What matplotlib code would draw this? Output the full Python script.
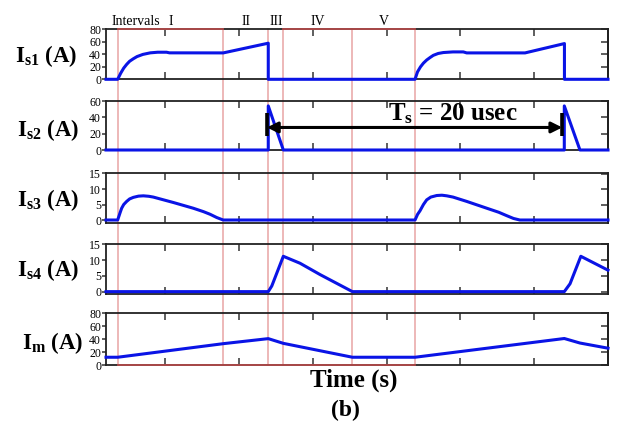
import matplotlib
matplotlib.use("Agg")
import matplotlib.pyplot as plt
from matplotlib.lines import Line2D
from matplotlib.transforms import blended_transform_factory

plt.rcParams['font.family'] = ['Liberation Serif', 'DejaVu Serif']
plt.rcParams['mathtext.fontset'] = 'custom'
plt.rcParams['mathtext.rm'] = 'Liberation Serif'
plt.rcParams['mathtext.bf'] = 'Liberation Serif:bold'
plt.rcParams['mathtext.it'] = 'Liberation Serif:italic'

# ---- waveforms (time in microseconds, currents in A) ----
t_is1 = [1.00, 1.79, 2.00, 2.20, 2.40, 2.60, 2.85, 3.10, 3.50, 4.00, 4.50, 5.10,
         5.30, 8.94, 11.99, 11.99,
         21.93, 22.10, 22.30, 22.50, 22.72, 22.95, 23.17, 23.50, 23.85, 24.50,
         25.20, 25.43, 29.38, 32.05, 32.05, 35.00]
i_s1 = [0, 0, 10, 18, 24, 29, 33, 36.5, 40, 42.5, 43.5, 43.5,
        42.5, 42.4, 58, 0,
        0, 12, 20, 26, 31, 35, 38.5, 41.5, 43, 44,
        44, 42.4, 42.4, 57.4, 0, 0]

t_is2 = [1.00, 11.99, 11.99, 13.01, 32.04, 32.04, 33.10, 35.00]
i_s2 = [0, 0, 54, 0, 0, 54, 0, 0]

t_is3 = [1.00, 1.79, 1.95, 2.06, 2.20, 2.40, 2.60, 2.85, 3.20, 3.53, 3.90, 4.20,
         5.56, 6.91, 7.60, 8.05, 8.50, 8.94,
         21.93, 22.10, 22.27, 22.50, 22.72, 23.00, 23.40, 23.75, 24.08, 24.50,
         25.43, 26.79, 27.60, 28.14, 28.60, 29.03, 35.00]
i_s3 = [0, 0, 2.3, 3.8, 5.0, 6.0, 6.8, 7.3, 7.7, 7.8, 7.65, 7.4,
        5.65, 3.8, 2.7, 1.85, 0.8, 0,
        0, 1.8, 3.0, 5.0, 6.5, 7.4, 7.9, 8.0, 7.8, 7.4,
        6.0, 3.8, 2.5, 1.4, 0.5, 0, 0]

t_is4 = [1.00, 11.99, 12.23, 13.01, 14.14, 15.50, 17.69, 32.04, 32.43, 33.16, 35.00]
i_s4 = [0, 0, 1.8, 11.2, 9.0, 5.4, 0, 0, 2.5, 11.2, 6.8]

t_im = [1.00, 1.79, 8.94, 11.99, 13.01, 17.69, 21.93, 32.04, 33.10, 35.00]
i_m = [12, 12, 33, 40.8, 33.5, 12, 12, 41, 34, 26]

# interval boundaries and names
boundaries = [1.79, 8.94, 11.99, 13.01, 17.68, 21.93]
interval_names = ['I', 'II', 'III', 'IV', 'V']

Ts = 20.0          # switching period, usec
ts_start = 11.9    # where the period marker begins

W, H = 617, 423
fig = plt.figure(figsize=(W / 100, H / 100), dpi=100)


def fx(px):
    return px / W


def fy(py):
    return 1 - py / H


LEFT, RIGHT = 106, 608
panels = [
    # top, bottom, ylim, yticks, label, label x, label y
    (29.5, 79.3, (0, 80), [0, 20, 40, 60, 80], r'I$_\mathbf{s1}$ (A)', 15, 56, t_is1, i_s1),
    (101, 150, (0, 60), [0, 20, 40, 60], r'I$_\mathbf{s2}$ (A)', 17, 130, t_is2, i_s2),
    (173.5, 223.3, (-1.06, 15), [0, 5, 10, 15], r'I$_\mathbf{s3}$ (A)', 17, 200, t_is3, i_s3),
    (244.3, 294, (-0.75, 15), [0, 5, 10, 15], r'I$_\mathbf{s4}$ (A)', 17, 270, t_is4, i_s4),
    (313.3, 365, (0, 80), [0, 20, 40, 60, 80], r'I$_\mathbf{m}$ (A)', 22, 343, t_im, i_m),
]

axes = []
for top, bot, ylim, yticks, label, lx, ly, tt, yy in panels:
    ax = fig.add_axes([fx(LEFT), fy(bot), fx(RIGHT - LEFT), (bot - top) / H])
    ax.set_facecolor('none')
    ax.plot(tt, yy, color='#0a14e6', lw=2.2, zorder=3, clip_on=False,
            solid_joinstyle='round')
    ax.set_xlim(1.0, 35.0)
    ax.set_ylim(*ylim)
    ax.set_xticks([5, 10, 15, 20, 25, 30, 35])
    ax.set_yticks(yticks)
    ax.tick_params(axis='x', direction='in', top=True, bottom=True,
                   labelbottom=False, length=5, width=1.1, color='#333333')
    ax.tick_params(axis='y', direction='out', left=True, right=False,
                   length=3, width=1.1, pad=0.5, labelsize=8.5, color='#333333')
    sec = ax.secondary_yaxis('right')
    sec.set_yticks(yticks)
    sec.tick_params(direction='in', length=5, width=1.1, labelright=False,
                    color='#333333')
    sec.spines['right'].set_linewidth(1.3)
    for s in ax.spines.values():
        s.set_linewidth(1.3)
        s.set_color('#222222')
    fig.text(fx(lx), fy(ly), label, fontsize=16.5, fontweight='bold',
             ha='left', va='center')
    axes.append(ax)

ax1, ax2 = axes[0], axes[1]
tr = blended_transform_factory(ax1.transData, fig.transFigure)

# interval boundary lines spanning all panels
for b in boundaries:
    fig.add_artist(Line2D([b, b], [fy(29.5), fy(365)], transform=tr,
                          color='#e8a4a4', lw=1.1, zorder=-1))

# interval frame segments along top and bottom
frame_red = '#b24a4a'
fig.add_artist(Line2D([boundaries[0], boundaries[1]], [fy(29.5)] * 2,
                      transform=tr, color=frame_red, lw=1.3, zorder=5))
fig.add_artist(Line2D([boundaries[3], boundaries[5]], [fy(29.5)] * 2,
                      transform=tr, color=frame_red, lw=1.3, zorder=5))
fig.add_artist(Line2D([boundaries[0], boundaries[5]], [fy(365)] * 2,
                      transform=tr, color=frame_red, lw=1.3, zorder=5))

# interval names
for name, a, b in zip(interval_names, boundaries[:-1], boundaries[1:]):
    fig.text((a + b) / 2, fy(24.7), name, transform=tr, fontsize=10,
             ha='center', va='baseline')
fig.text(1.4, fy(24.7), 'Intervals', transform=tr, fontsize=10, ha='left',
         va='baseline')

# switching period marker
y_arrow = 27.6
ax2.annotate('', xy=(ts_start, y_arrow), xytext=(ts_start + Ts, y_arrow),
             arrowprops=dict(arrowstyle='<|-|>', color='black', lw=2.2,
                             mutation_scale=16, shrinkA=0, shrinkB=0),
             annotation_clip=False, zorder=6)
for xb in (ts_start, ts_start + Ts):
    ax2.plot([xb, xb], [17.1, 45.3], color='black', lw=2.6, zorder=6,
             clip_on=False, solid_capstyle='butt')
ax2.text(24.5, 35.9, r'T$_\mathbf{s}$' + f' = {Ts:g} usec', fontsize=18,
         fontweight='bold', ha='center', va='baseline', zorder=7)

fig.text(fx(354), fy(380), 'Time (s)', fontsize=18, fontweight='bold',
         ha='center', va='center')
fig.text(fx(345), fy(410), '(b)', fontsize=17, fontweight='bold',
         ha='center', va='center')

fig.savefig('out.png', dpi=100)
